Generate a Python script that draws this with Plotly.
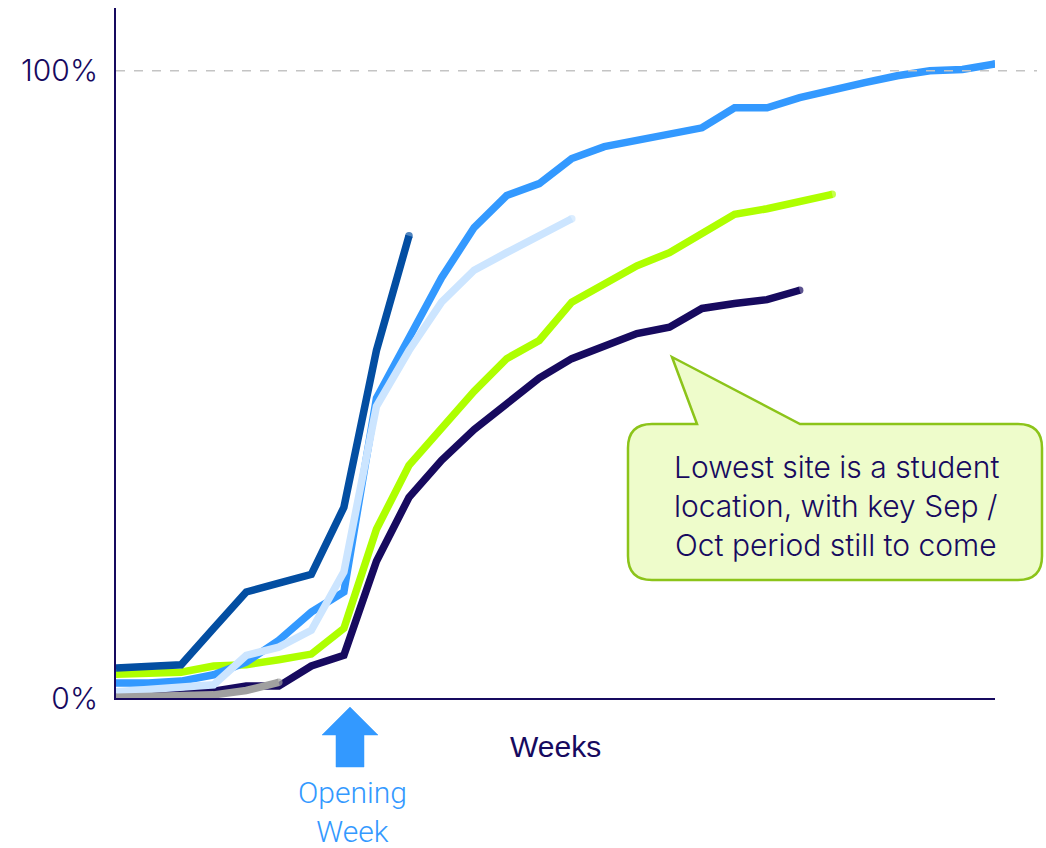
import plotly.graph_objects as go

# Weekly cumulative progress per site (% of target)
weeks = list(range(28))

site_a = [4.8, 5.0, 5.3, 11.1, 16.9, 18.3, 19.7, 30.4, 55.4, 73.7]
site_b = [2.4, 2.4, 2.7, 3.7, 5.7, 9.2, 13.7, 16.9, 47.8, 57.6, 67.0, 75.0, 80.1, 82.0,
          86.0, 87.9, 88.9, 89.8, 90.9, 94.1, 94.1, 95.7, 97.0, 98.1, 99.2, 100.0, 100.2, 101.1]
site_c = [1.0, 1.3, 1.6, 2.1, 6.8, 8.1, 10.8, 20.1, 46.5, 55.4, 63.1, 68.2, 71.0, 73.7, 76.4]
site_d = [3.8, 4.0, 4.1, 5.1, 5.3, 6.1, 7.0, 11.1, 26.9, 37.1, 43.2, 48.9, 54.1, 57.0,
          63.1, 65.9, 68.9, 71.0, 74.0, 77.1, 78.0, 79.3, 80.3]
site_e = [0.2, 0.3, 0.6, 1.1, 1.9, 1.9, 5.1, 6.8, 21.8, 32.0, 37.9, 42.8, 47.0, 51.0,
          54.1, 56.2, 58.1, 59.1, 62.1, 62.9, 63.5, 65.0]
site_f = [0.1, 0.2, 0.3, 0.5, 1.2, 2.5]

y_tick_vals = [0, 100]
y_tick_text = ["0%", "100%"]

NAVY = "#170A5F"
W, H = 1046, 848
ML, MR, MT, MB = 116, 51, 8, 150
PW, PH = W - ML - MR, H - MT - MB


def px(x, y):
    """Pixel position -> paper coordinates."""
    return (x - ML) / PW, (H - MB - y) / PH


def path(segments):
    """Build an SVG path (one point per command) in paper coordinates."""
    out = []
    for cmd, pts in segments:
        coords = []
        for (x, y) in pts:
            a, b = px(x, y)
            coords.append(f"{a:.5f},{b:.5f}")
        out.append(cmd + " " + " ".join(coords))
    return " ".join(out) + " Z"


series = [
    (site_e, "#170A5F"),
    (site_d, "#AEFF00"),
    (site_b, "#3399FF"),
    (site_c, "#CCE5FF"),
    (site_f, "#A0A0A0"),
    (site_a, "#034EA2"),
]

fig = go.Figure()
for vals, col in series:
    n = len(vals)
    fig.add_trace(go.Scatter(
        x=weeks[:n], y=vals, mode="lines+markers",
        line=dict(color=col, width=7.5),
        marker=dict(color=col, size=[0] * (n - 1) + [7.5], line=dict(width=0)),
        hoverinfo="skip", showlegend=False,
    ))

# 100% reference line
fig.add_shape(type="line", xref="paper", yref="y", x0=0, x1=(1037 - ML) / PW,
              y0=100, y1=100, line=dict(color="#C4C4C4", width=1.3, dash="dash"),
              layer="above")

# Callout bubble with pointer
L, R, T, B, r = 628, 1042, 424, 580, 24
bubble = path([
    ("M", [(L + r, T)]),
    ("L", [(697, T)]),
    ("L", [(672, 357)]),
    ("L", [(800, T)]),
    ("L", [(R - r, T)]),
    ("Q", [(R, T), (R, T + r)]),
    ("L", [(R, B - r)]),
    ("Q", [(R, B), (R - r, B)]),
    ("L", [(L + r, B)]),
    ("Q", [(L, B), (L, B - r)]),
    ("L", [(L, T + r)]),
    ("Q", [(L, T), (L + r, T)]),
])
fig.add_shape(type="path", xref="paper", yref="paper", path=bubble,
              fillcolor="#EEFCCB", line=dict(color="#8CC41A", width=2.5), layer="above")

# Opening-week arrow
arrow = path([
    ("M", [(350, 707)]),
    ("L", [(378, 735)]),
    ("L", [(364, 735)]),
    ("L", [(364, 767)]),
    ("L", [(336, 767)]),
    ("L", [(336, 735)]),
    ("L", [(322, 735)]),
])
fig.add_shape(type="path", xref="paper", yref="paper", path=arrow,
              fillcolor="#3399FF", line=dict(color="#3399FF", width=0.5), layer="above")


def label(text, x, y, size, color, family, weight=None):
    a, b = px(x, y)
    f = dict(size=size, color=color, family=family)
    if weight:
        f["weight"] = weight
    fig.add_annotation(text=text, xref="paper", yref="paper", x=a, y=b,
                       xanchor="center", yanchor="middle", showarrow=False, font=f)


label("Weeks", 555, 746, 30, NAVY, "Liberation Sans")
label("Opening<br>Week", 352, 812, 30, "#3399FF", "Roboto", 300)
for txt, yy in [("Lowest site is a student", 467),
                ("location, with key Sep /", 506),
                ("Oct period still to come", 545)]:
    label(txt, 836, yy, 30, NAVY, "Inter", 300)

fig.update_layout(
    width=W, height=H,
    margin=dict(l=ML, r=MR, t=MT, b=MB, pad=0),
    paper_bgcolor="white", plot_bgcolor="white",
    xaxis=dict(range=[0, 27], showline=True, linecolor=NAVY, linewidth=2,
               showgrid=False, zeroline=False, showticklabels=False, ticks=""),
    yaxis=dict(range=[0, 110], showline=True, linecolor=NAVY, linewidth=2,
               showgrid=False, zeroline=False, tickvals=y_tick_vals, ticktext=y_tick_text,
               ticks="", ticklabelstandoff=10,
               tickfont=dict(family="Inter", size=30, color=NAVY, weight=300)),
)

fig.write_html("out.html")
